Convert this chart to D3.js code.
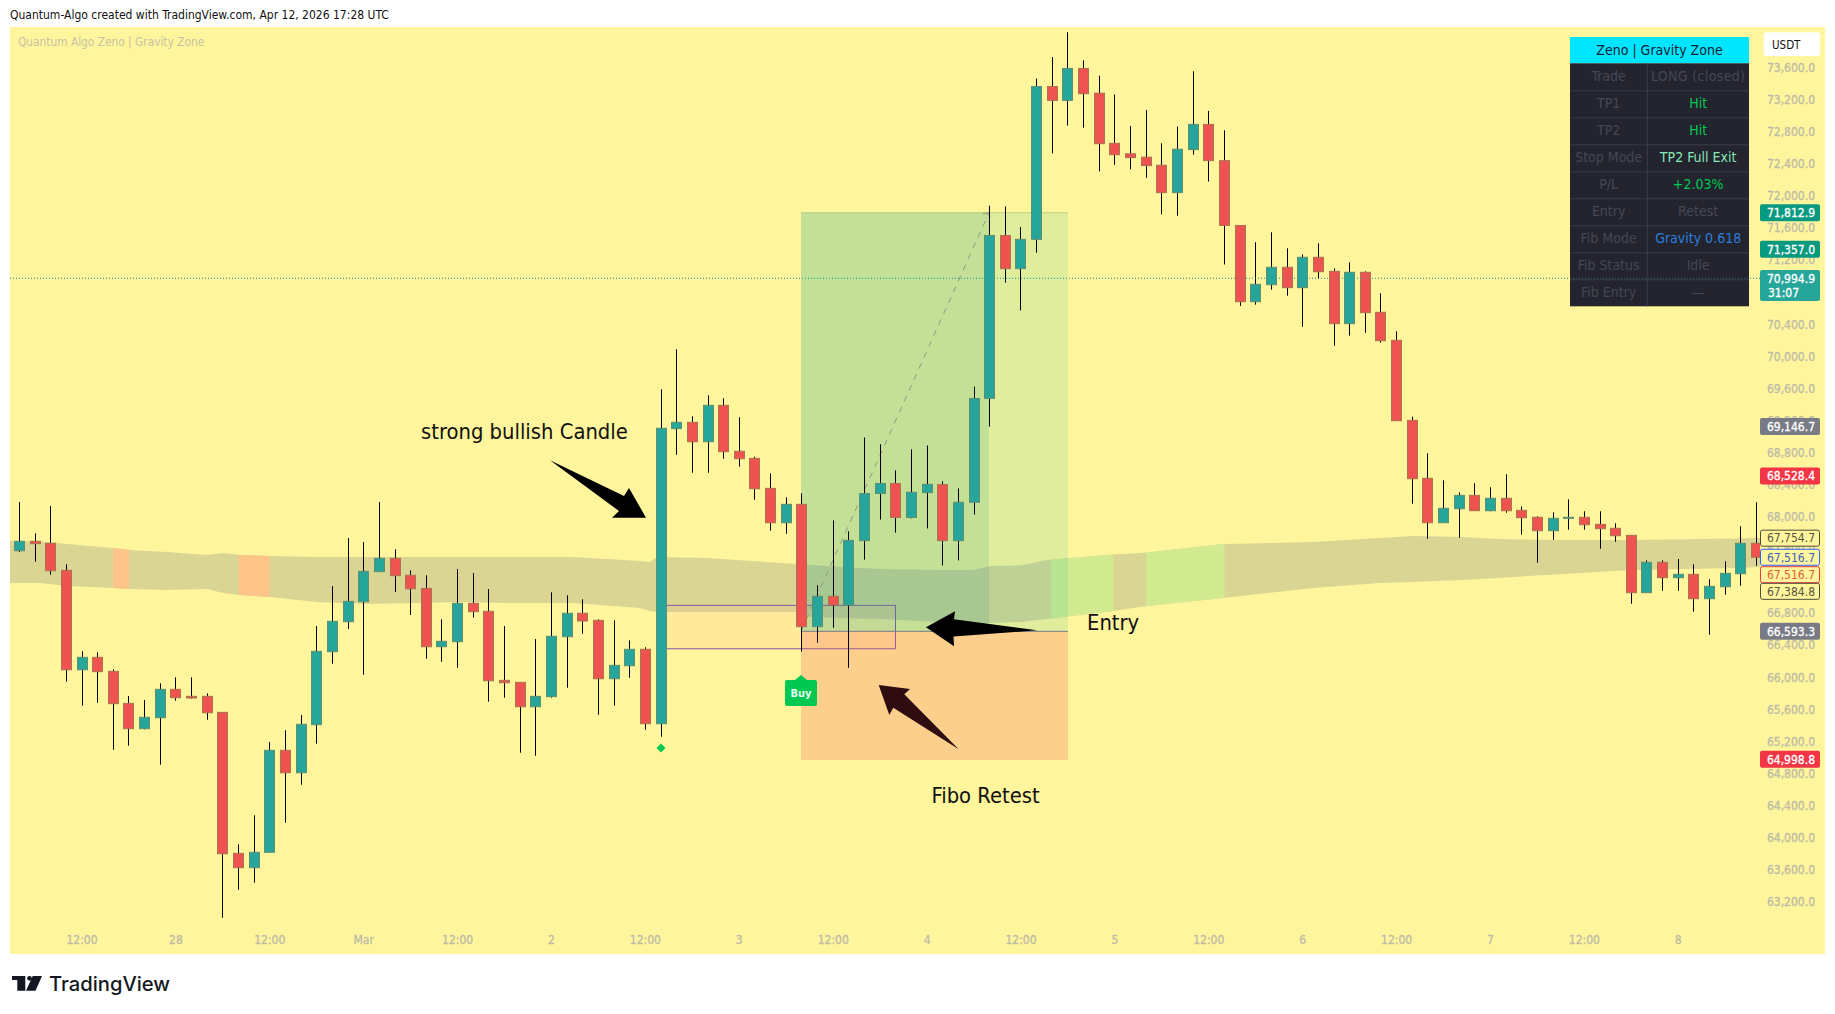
<!DOCTYPE html>
<html><head><meta charset="utf-8">
<style>
html,body{margin:0;padding:0;background:#fff;}
svg{display:block;}
text{font-family:"DejaVu Sans Condensed","DejaVu Sans",sans-serif;}
</style>
<script src="https://cdn.jsdelivr.net/npm/d3@7"></script>
</head><body>
<svg id="c" width="1835" height="1014"></svg>
<script>
// ---------- DATA ----------
const opens=[67598,67716,67691,67354,66114,66269,66094,65695,65379,65516,65870,65783,65783,65583,63825,63646,63838,65110,64830,65429,66339,66713,66962,67337,67504,67292,67129,66401,66464,66942,66843,65982,65957,65653,65778,66526,66818,66730,66002,66164,66369,65441,69120,69199,68957,69411,68838,68750,68376,67947,68177,66651,67030,66921,67724,68311,68437,68012,68323,68422,67724,68202,69497,71529,71115,71481,73386,73213,73612,73303,72678,72547,72505,72405,72063,72600,72914,72462,71654,70703,70915,71132,70878,71257,71082,70429,71070,70571,70222,69224,68501,67947,68122,68289,68097,68252,68102,68015,67848,68010,68015,67927,67878,67790,67075,67454,67262,67304,67000,67149,67311,67691];
const highs=[68206,67815,68156,67429,66344,66331,66119,65787,65737,65945,66020,66020,65820,65583,63937,64299,65213,65359,65550,66659,67158,67757,67707,68206,67616,67354,67292,66743,67370,67320,67121,66659,65957,66497,67080,67042,66992,66743,66730,66481,66394,69611,70110,69274,69536,69499,69262,68770,68563,68264,68314,67167,67977,67840,69010,68926,68601,68863,68910,68464,68375,69644,71901,71891,71634,73486,73754,74063,73712,73522,73287,72894,73093,72678,72888,73576,73082,72840,71654,71444,71569,71369,71294,71431,71120,71194,71082,70808,70334,69269,68813,68476,68326,68439,68389,68551,68152,68027,68077,68239,68090,68090,67940,67790,67479,67479,67495,67429,67242,67466,67903,68202];
const lows=[67582,67461,67299,65965,65666,65703,65117,65167,65371,64930,65728,65753,65491,63022,63371,63459,63838,64207,64681,65192,66189,66622,66052,67337,67083,66797,66252,66214,66139,66763,65716,65765,65080,65042,65765,65890,66563,65553,65666,66015,65366,65279,68795,68571,68571,68745,68646,68234,67848,67810,66339,66451,66638,66139,67487,67986,67824,68002,67876,67414,67477,68050,69146,70941,70595,71314,72552,72899,72873,72327,72410,72353,72248,71792,71775,72536,72201,71167,70650,70666,70853,70778,70391,70990,70154,70279,70317,70192,69219,68184,67748,67947,67760,68097,68090,68072,67798,67449,67735,67860,67860,67623,67710,66937,67075,67099,67099,66838,66551,67050,67162,67411];
const closes=[67716,67686,67349,66114,66269,66090,65691,65379,65521,65870,65765,65762,65578,63820,63646,63838,65110,64830,65434,66344,66718,66967,67341,67504,67287,67124,66401,66469,66942,66838,65977,65952,65653,65783,66531,66818,66722,66002,66169,66369,65441,69125,69199,68957,69411,68833,68745,68371,67947,68177,66651,67030,66921,67728,68311,68437,68012,68328,68427,67724,68202,69497,71529,71115,71481,73386,73213,73612,73297,72673,72536,72500,72400,72063,72605,72914,72462,71654,70703,70920,71132,70878,71257,71077,70429,71070,70566,70217,69219,68496,67947,68127,68289,68097,68252,68097,68010,67848,68002,68015,67922,67873,67785,67075,67454,67262,67304,67000,67154,67316,67691,67517];

const bandIdx=[-0.6,1.32,3.04,5.98,7.07,9.43,11.99,13.01,14.1,16,19,22.21,28.15,31.16,35.37,39.65,40.28,40.74,43.94,49.69,50.52,54.99,58.83,60.93,62.02,63.94,65.66,69.88,72.05,76.91,82.66,86.94,89.05,92.24,94.42,98.64,102.92,109.76,111.22];
const bandUpper=[67719,67713,67682,67632,67607,67582,67545,67570,67545,67532,67520,67520,67520,67520,67520,67470,67457,67520,67507,67432,67420,67370,67358,67358,67408,67414,67482,67551,67577,67682,67707,67757,67782,67769,67744,67732,67732,67750,67757];
const bandLower=[67196,67196,67158,67133,67121,67108,67121,67071,67046,67021,66959,66934,66959,66946,66946,66884,66846,66834,66834,66834,66772,66747,66709,66703,66697,66709,66747,66846,66909,67009,67133,67196,67208,67233,67258,67308,67358,67383,67395];
const bearStarts=[5.98,14.0], bearEnds=[7.0,16.0];
const bullStarts=[65.9,72.0], bullEnds=[69.9,77.0];

const priceTicks=d3.range(63200,73601,400);
const timeTickIdx=[4,10,16,22,28,34,40,46,52,58,64,70,76,82,88,94,100,106];
const timeTickLabels=["12:00","28","12:00","Mar","12:00","2","12:00","3","12:00","4","12:00","5","12:00","6","12:00","7","12:00","8"];

const lastPrice=70994.9, tpPrice=71812.9, tp1Price=71357.0, entryPrice=66593.3, stopPrice=64998.8;
const zoneStartIdx=50, zoneHitIdx=62, zoneEndIdx=67;
const fibTop=66917, fibBottom=66376, fibStartIdx=41, fibEndIdx=56;
const signalIdx=41;
const buyIdx=50;

const solidLabelValues=[71812.9,71357.0,69146.7,68528.4,66593.3,64998.8];
const solidLabelColors=["#089981","#089981","#787b86","#f23645","#787b86","#f23645"];
const outlineLabelValues=[67754.7,67516.7,67516.7,67384.8];
const outlineLabelNudges=[0,0,17.4,23.5];
const outlineLabelStroke=["#4d4d3c","#2962ff","#f23645","#4d4d3c"];
const outlineLabelText=["#55553f","#3a62c0","#e0603a","#55553f"];

const tableKeys=["Trade","TP1","TP2","Stop Mode","P/L","Entry","Fib Mode","Fib Status","Fib Entry"];
const tableVals=["LONG (closed)","Hit","Hit","TP2 Full Exit","+2.03%","Retest","Gravity 0.618","Idle","—"];
const tableColors=["#444854","#00c853","#00c853","#86e8b8","#00c853","#444854","#2a7fdc","#444854","#444854"];

// ---------- SCALES ----------
const svg=d3.select("#c");
const x=d3.scaleLinear().domain([0,111]).range([19.4,1756.55]);
const fx=i=>Math.floor(x(i));
const y=d3.scaleLinear().domain([lastPrice,64998.8]).range([278.3,759.2]);
const fmt=d3.format(",.1f");
const BG="#fff59d", TICK="#bdbba6";

// panel
svg.append("rect").attr("x",10).attr("y",27).attr("width",1815).attr("height",927).attr("fill",BG);

// band
const defs=svg.append("defs");
const bandData=bandIdx.map((d,i)=>({i:d,u:bandUpper[i],l:bandLower[i]}));
const area=d3.area().x(d=>x(d.i)).y0(d=>y(d.l)).y1(d=>y(d.u));
defs.append("clipPath").attr("id","bandClip").append("path").attr("d",area(bandData));
defs.append("clipPath").attr("id","panelClip").append("rect").attr("x",10).attr("y",27).attr("width",1750).attr("height",927);
const band=svg.append("g").attr("clip-path","url(#panelClip)").append("g").attr("clip-path","url(#bandClip)");
band.append("rect").attr("x",0).attr("y",400).attr("width",1835).attr("height",300).attr("fill","#dbd594");
bearStarts.forEach((s,k)=>band.append("rect").attr("x",x(s)).attr("width",x(bearEnds[k])-x(s)).attr("y",400).attr("height",300).attr("fill","#fdc48a"));
bullStarts.forEach((s,k)=>band.append("rect").attr("x",x(s)).attr("width",x(bullEnds[k])-x(s)).attr("y",400).attr("height",300).attr("fill","#d2ea90"));

// fib box
svg.append("rect").attr("x",fx(fibStartIdx)+.5).attr("y",y(fibTop)).attr("width",fx(fibEndIdx)-fx(fibStartIdx)).attr("height",y(fibBottom)-y(fibTop))
  .attr("fill","rgba(255,170,150,.13)").attr("stroke","#8a55a8").attr("stroke-width",1);

// zones
const zx0=fx(zoneStartIdx), zx1=fx(zoneEndIdx)+1, zxh=fx(zoneHitIdx);
svg.append("rect").attr("x",zx0).attr("y",y(tpPrice)).attr("width",zx1-zx0).attr("height",y(entryPrice)-y(tpPrice)).attr("fill","rgba(0,180,160,.12)");
svg.append("rect").attr("x",zx0).attr("y",y(tpPrice)).attr("width",zxh-zx0).attr("height",y(entryPrice)-y(tpPrice)).attr("fill","rgba(40,153,129,.15)");
svg.append("rect").attr("x",zx0).attr("y",y(entryPrice)).attr("width",zx1-zx0).attr("height",y(stopPrice)-y(entryPrice)+.8).attr("fill","rgba(243,95,93,.25)");
svg.append("line").attr("x1",zx0).attr("x2",zx1).attr("y1",y(entryPrice)).attr("y2",y(entryPrice)).attr("stroke","#7a7a8c").attr("stroke-width",1);
svg.append("line").attr("x1",zx0).attr("x2",zx1).attr("y1",y(tpPrice)).attr("y2",y(tpPrice)).attr("stroke","rgba(110,150,90,.35)").attr("stroke-width",1);
svg.append("line").attr("x1",zx0).attr("y1",y(entryPrice)).attr("x2",zxh).attr("y2",y(tpPrice)).attr("stroke","#8d9a80").attr("stroke-width",1).attr("stroke-dasharray","6 6");
svg.append("path").attr("d",`M${zxh-6},${y(tpPrice)+1}L${zxh},${y(tpPrice)}L${zxh+1},${y(tpPrice)+5}`).attr("fill","none").attr("stroke","#8d9a80");

// last price dotted line
svg.append("line").attr("x1",10).attr("x2",1760).attr("y1",y(lastPrice)).attr("y2",y(lastPrice)).attr("stroke","#26a69a").attr("stroke-width",1).attr("stroke-dasharray","1 2");

// candles
const candles=opens.map((o,i)=>({i,o,h:highs[i],l:lows[i],c:closes[i]}));
const cg=svg.append("g").attr("clip-path","url(#panelClip)");
const W=10;
cg.selectAll("line.w").data(candles).join("line").attr("class","w")
  .attr("x1",d=>fx(d.i)+.5).attr("x2",d=>fx(d.i)+.5)
  .attr("y1",d=>y(d.h)).attr("y2",d=>y(d.l)).attr("stroke","#000").attr("stroke-width",1);
cg.selectAll("rect.b").data(candles).join("rect").attr("class","b")
  .attr("x",d=>fx(d.i)+.5-W/2).attr("width",W)
  .attr("y",d=>y(Math.max(d.o,d.c))).attr("height",d=>Math.max(1,Math.abs(y(d.o)-y(d.c))))
  .attr("fill",d=>d.c>=d.o?"#26a69a":"#ef5350")
  .attr("stroke",d=>d.c>=d.o?"#5f8f70":"#ab7350").attr("stroke-width",1);

// signal diamond
const dx=fx(signalIdx);
svg.append("path").attr("d",`M${dx-4.5},748L${dx},743.5L${dx+4.5},748L${dx},752.5Z`).attr("fill","#00c853");

// buy label
const bx=fx(buyIdx);
svg.append("path").attr("d",`M${bx-16},682a2,2 0 0 1 2,-2H${bx-6}L${bx},675L${bx+6},680H${bx+14}a2,2 0 0 1 2,2V704a2,2 0 0 1 -2,2H${bx-14}a2,2 0 0 1 -2,-2Z`).attr("fill","#00c853");
svg.append("text").attr("x",bx).attr("y",696.5).attr("text-anchor","middle").attr("font-size",11).attr("font-weight","bold").attr("fill","#e6fff0").text("Buy");

// annotations
const arrow=(pts,fill)=>svg.append("path").attr("d","M"+pts.map(p=>p.join(",")).join("L")+"Z").attr("fill",fill);
arrow([[550,460.3],[624,496],[629,488],[646,517.7],[612,517.7],[619,511]],"#000");
arrow([[926,627.3],[955,611.3],[954,619.3],[1037.3,630.3],[953.5,636.6],[954,646.3]],"#000");
arrow([[878.7,685],[910,689],[904.3,694.3],[958.7,749.3],[893.3,707.7],[889.3,715]],"#2e0c10");
const note=(t,xx,yy)=>svg.append("text").attr("x",xx).attr("y",yy).attr("font-size",21.8).attr("fill","#111").text(t);
note("strong bullish Candle",421,439);
note("Entry",1087,630);
note("Fibo Retest",931.5,803.3);

// y axis labels
const yAxis=d3.axisRight(y).tickValues(priceTicks).tickFormat(fmt).tickSize(0).tickPadding(0);
const yg=svg.append("g").attr("transform","translate(1815,-1.7)").call(yAxis);
yg.select(".domain").remove();
yg.selectAll("text").attr("text-anchor","end").attr("font-size",12).attr("fill",TICK).attr("stroke",TICK).attr("stroke-width",.3).attr("x",0).style("font-family",'"DejaVu Sans Condensed","DejaVu Sans",sans-serif');

// x axis labels
svg.selectAll("text.xt").data(timeTickIdx).join("text").attr("class","xt")
  .attr("x",d=>x(d)).attr("y",943.5).attr("text-anchor","middle").attr("font-size",12)
  .attr("fill",TICK).attr("stroke",TICK).attr("stroke-width",.3).text((d,i)=>timeTickLabels[i]);

// price labels
const lab=(v,color)=>{const cy=y(v);
 svg.append("rect").attr("x",1760).attr("y",cy-8.5).attr("width",60).attr("height",17).attr("rx",2).attr("fill",color);
 svg.append("text").attr("x",1815).attr("y",cy+4.3).attr("text-anchor","end").attr("font-size",12).attr("stroke","#fff").attr("stroke-width",.3).attr("fill","#fff").text(fmt(v));};
solidLabelValues.forEach((v,i)=>lab(v,solidLabelColors[i]));
outlineLabelValues.forEach((v,i)=>{const cy=y(v)+outlineLabelNudges[i];
 svg.append("rect").attr("x",1760.5).attr("y",cy-8).attr("width",59).attr("height",16).attr("rx",2).attr("fill",BG).attr("stroke",outlineLabelStroke[i]);
 svg.append("text").attr("x",1815).attr("y",cy+4.3).attr("text-anchor","end").attr("font-size",12).attr("fill",outlineLabelText[i]).text(fmt(v));});
// current price
svg.append("rect").attr("x",1760).attr("y",270).attr("width",60).attr("height",31).attr("rx",2).attr("fill","#26a69a");
svg.append("text").attr("x",1815).attr("y",283).attr("text-anchor","end").attr("font-size",12).attr("stroke","#fff").attr("stroke-width",.3).attr("fill","#fff").text(fmt(lastPrice));
svg.append("text").attr("x",1768).attr("y",296.5).attr("font-size",12).attr("stroke","#fff").attr("stroke-width",.3).attr("fill","#fff").text("31:07");

// USDT
svg.append("rect").attr("x",1763.7).attr("y",32.3).attr("width",56.3).attr("height",23.7).attr("rx",3).attr("fill","#fff");
svg.append("text").attr("x",1772).attr("y",48.5).attr("font-size",11.5).attr("fill","#111").text("USDT");

// table
const TX=1570,TW=179,CX=1647.3,RY=63.3,RH=27;
svg.append("rect").attr("x",TX).attr("y",37).attr("width",TW).attr("height",26.3).attr("fill","#00e5ff");
svg.append("text").attr("x",TX+TW/2).attr("y",54.8).attr("text-anchor","middle").attr("font-size",14).attr("fill","#14212e").text("Zeno | Gravity Zone");
svg.append("rect").attr("x",TX).attr("y",RY).attr("width",TW).attr("height",RH*tableKeys.length).attr("fill","#24242f");
tableKeys.forEach((k,i)=>{
 const ry=RY+i*RH;
 if(i>0) svg.append("line").attr("x1",TX).attr("x2",TX+TW).attr("y1",ry+.5).attr("y2",ry+.5).attr("stroke","#3a3d4a");
 svg.append("text").attr("x",(TX+CX)/2).attr("y",ry+17.5).attr("text-anchor","middle").attr("font-size",14).attr("fill","#444854").text(k);
 svg.append("text").attr("x",(CX+TX+TW)/2).attr("y",ry+17.5).attr("text-anchor","middle").attr("font-size",14)
   .attr("letter-spacing",i===0?".35px":null).attr("fill",tableColors[i]).text(tableVals[i]);
});
svg.append("line").attr("x1",CX).attr("x2",CX).attr("y1",RY).attr("y2",RY+RH*tableKeys.length).attr("stroke","#3a3d4a");
svg.append("line").attr("x1",10).attr("x2",1760).attr("y1",y(lastPrice)).attr("y2",y(lastPrice)).attr("stroke","#26a69a").attr("stroke-opacity",.55).attr("stroke-dasharray","1 2");

// header texts
svg.append("text").attr("x",10).attr("y",19).attr("font-size",12).attr("fill","#111").text("Quantum-Algo created with TradingView.com, Apr 12, 2026 17:28 UTC");
svg.append("text").attr("x",18).attr("y",46).attr("font-size",11.8).attr("fill","#c6c3a2").text("Quantum Algo Zeno | Gravity Zone");

// logo
svg.append("path").attr("d","M12,976H25.3V990.7H17.3V980H12Z").attr("fill","#131722");
svg.append("circle").attr("cx",29.5).attr("cy",978.3).attr("r",2.4).attr("fill","#131722");
svg.append("path").attr("d","M32.7,976H42L35.5,990.7H26Z").attr("fill","#131722");
svg.append("text").attr("x",49).attr("y",990.7).attr("font-size",20.2).attr("font-weight",500).attr("fill","#131722").style("font-family","Inter,sans-serif").text("TradingView");
</script>
</body></html>
